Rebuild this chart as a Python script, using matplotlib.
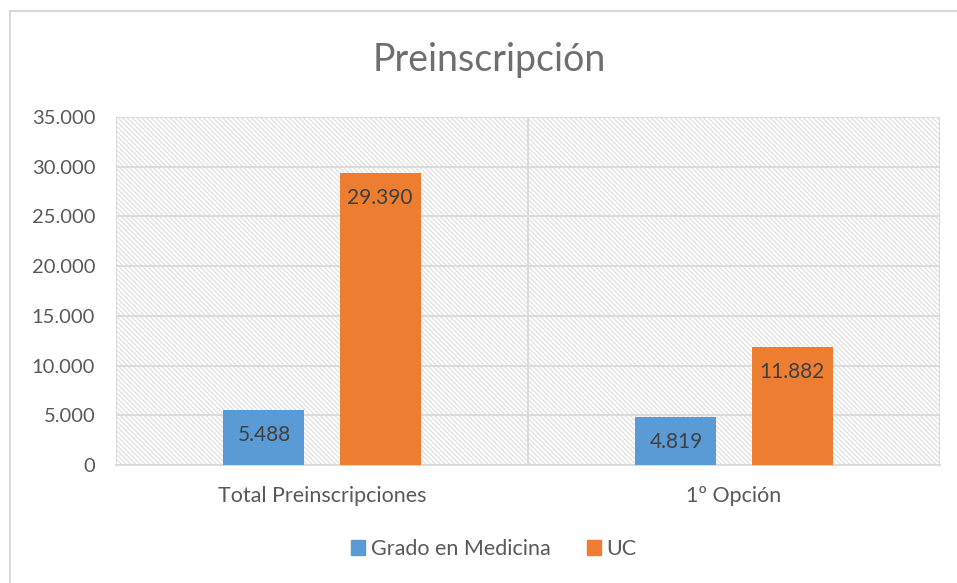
import matplotlib
matplotlib.use("Agg")
import matplotlib.pyplot as plt
from matplotlib.patches import Rectangle
from matplotlib.ticker import FuncFormatter, MultipleLocator

categories = ["Total Preinscripciones", "1º Opción"]
series_names = ["Grado en Medicina", "UC"]
medicina = [5488, 4819]
uc = [29390, 11882]
colors = ["#5B9BD5", "#ED7D31"]

plt.rcParams['font.family'] = ['Lato', 'DejaVu Sans']
plt.rcParams['hatch.linewidth'] = 1.0
text_col = "#595959"
grid_col = "#d9d9d9"

fig = plt.figure(figsize=(9.57, 5.83), dpi=100)
ax = fig.add_axes([116/957, 1-465/583, (940-116)/957, (465-117)/583])

# figure border
fig.patches.append(Rectangle((10/957, -0.1), 1.2, 1-11/583+0.1, transform=fig.transFigure,
                             fill=False, edgecolor="#d9d9d9", lw=1.5, zorder=0))

ax.set_xlim(-0.5, len(categories) - 0.5)
ax.set_ylim(0, 35000)

# hatched plot area background
ax.patch.set_facecolor("white")
bg = Rectangle((0, 0), 1, 1, transform=ax.transAxes, facecolor="white",
               edgecolor="#e2e2e2", hatch="\\" * 7, lw=0, zorder=0)
ax.add_patch(bg)

width = 0.197
offset = 0.141
x = list(range(len(categories)))
for vals, off, col in [(medicina, -offset, colors[0]), (uc, offset, colors[1])]:
    bars = ax.bar([i + off for i in x], vals, width, color=col, zorder=3)
    for b, v in zip(bars, vals):
        s = f"{v:,}".replace(",", ".")
        ax.text(b.get_x() + b.get_width()/2, v - 2500, s, ha="center", va="center",
                fontsize=15, color="#404040", zorder=4)

ax.yaxis.set_major_locator(MultipleLocator(5000))
ax.yaxis.set_major_formatter(FuncFormatter(lambda v, p: f"{int(v):,}".replace(",", ".")))
ax.grid(axis="y", color=grid_col, lw=1.3, zorder=1)
for xv in [-0.5, 0.5, 1.5]:
    ax.axvline(xv, color=grid_col, lw=1.3, zorder=1)

for s in ["top", "right", "left"]:
    ax.spines[s].set_visible(False)
ax.spines["bottom"].set_color(grid_col)
ax.spines["bottom"].set_linewidth(1.3)
ax.set_xticks(x)
ax.set_xticklabels(categories)
ax.tick_params(axis="both", length=0, colors=text_col)
ax.tick_params(axis="y", pad=15, labelsize=14.5)
ax.tick_params(axis="x", pad=15, labelsize=15.5)

fig.text(489/957, 1-60/583, "Preinscripción", ha="center", va="center", fontsize=27, color="#6e6e6e")

handles = [Rectangle((0, 0), 1, 1, color=c) for c in colors]
fig.legend(handles, series_names, loc="center", bbox_to_anchor=(494/957, 1-549/583), ncol=2,
           frameon=False, fontsize=15.5, labelcolor=text_col, handlelength=0.65,
           handleheight=0.65, handletextpad=0.25, columnspacing=1.7)

fig.savefig("out.png", dpi=100)
